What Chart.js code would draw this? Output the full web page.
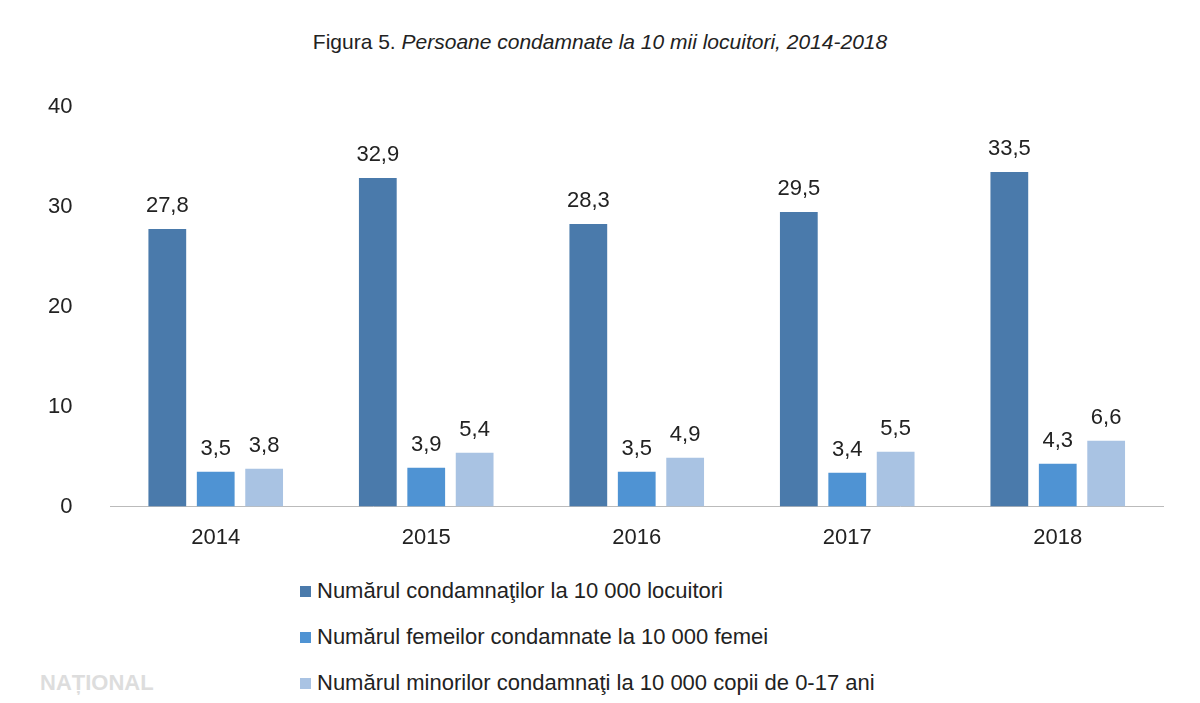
<!DOCTYPE html>
<html><head><meta charset="utf-8">
<script src="https://cdn.jsdelivr.net/npm/chart.js@4"></script>
<style>
body{margin:0;background:#fff;font-family:"Liberation Sans",Arial,sans-serif}
#wrap{position:relative;width:1200px;height:703px}
#title{position:absolute;top:30px;left:0;width:1200px;text-align:center;font-size:21px;color:#222}
#chart{position:absolute;left:18px;top:64px;width:1150px;height:497px}
#legend{position:absolute;left:300px;top:568px;font-size:22px;color:#222}
#legend div{height:46px;display:flex;align-items:center}
#legend span{display:inline-block;width:11px;height:11px;margin-right:6px}
#wm{position:absolute;left:40px;top:670px;font-size:22px;font-weight:bold;color:#ddd}
</style></head><body>
<div id="wrap">
<div id="title">Figura 5. <i>Persoane condamnate la 10 mii locuitori, 2014-2018</i></div>
<div id="chart"><canvas id="c"></canvas></div>
<div id="legend"></div>
<div id="wm">NAȚIONAL</div>
</div>
<script>
// date
var years = ['2014', '2015', '2016', '2017', '2018']
var seriesNames = [
  'Numărul condamnaţilor la 10 000 locuitori',
  'Numărul femeilor condamnate la 10 000 femei',
  'Numărul minorilor condamnaţi la 10 000 copii de 0-17 ani'
]
var totalValues = [27.8, 32.9, 28.3, 29.5, 33.5]
var femaleValues = [3.5, 3.9, 3.5, 3.4, 4.3]
var minorValues = [3.8, 5.4, 4.9, 5.5, 6.6]
var colors = ['#4a7aab', '#4f93d3', '#a9c3e3']

var allValues = [totalValues, femaleValues, minorValues]
var datasets = allValues.map((vals, i) => ({
  label: seriesNames[i], data: vals, backgroundColor: colors[i],
  categoryPercentage: 0.69, barPercentage: 0.78
}))

// etichete cu valori deasupra barelor
var labelPlugin = {
  id: 'labels',
  afterDatasetsDraw(chart) {
    var ctx = chart.ctx
    ctx.save()
    ctx.font = '22px "Liberation Sans", Arial'
    ctx.fillStyle = '#222'
    ctx.textAlign = 'center'
    ctx.textBaseline = 'bottom'
    chart.data.datasets.forEach((ds, i) => {
      chart.getDatasetMeta(i).data.forEach((bar, j) => {
        ctx.fillText(ds.data[j].toFixed(1).replace('.', ','), bar.x, bar.y - 12)
      })
    })
    ctx.restore()
  }
}

new Chart(document.getElementById('c'), {
  type: 'bar',
  data: { labels: years, datasets: datasets },
  options: {
    responsive: true, maintainAspectRatio: false, animation: false,
    layout: { padding: { top: 5, right: 5 } },
    plugins: { legend: { display: false }, tooltip: { enabled: false } },
    scales: {
      x: { grid: { display: false }, border: { color: '#bbb' },
           ticks: { color: '#222', font: { size: 22, family: 'Liberation Sans' }, padding: 10 } },
      y: { min: 0, max: 40, grid: { display: false }, border: { display: false },
           ticks: { stepSize: 10, color: '#222', font: { size: 22, family: 'Liberation Sans' }, padding: 30 } }
    }
  },
  plugins: [labelPlugin]
})

var leg = document.getElementById('legend')
seriesNames.forEach((n, i) => {
  var d = document.createElement('div')
  d.innerHTML = '<span style="background:' + colors[i] + '"></span>' + n
  leg.appendChild(d)
})
</script>
</body></html>
